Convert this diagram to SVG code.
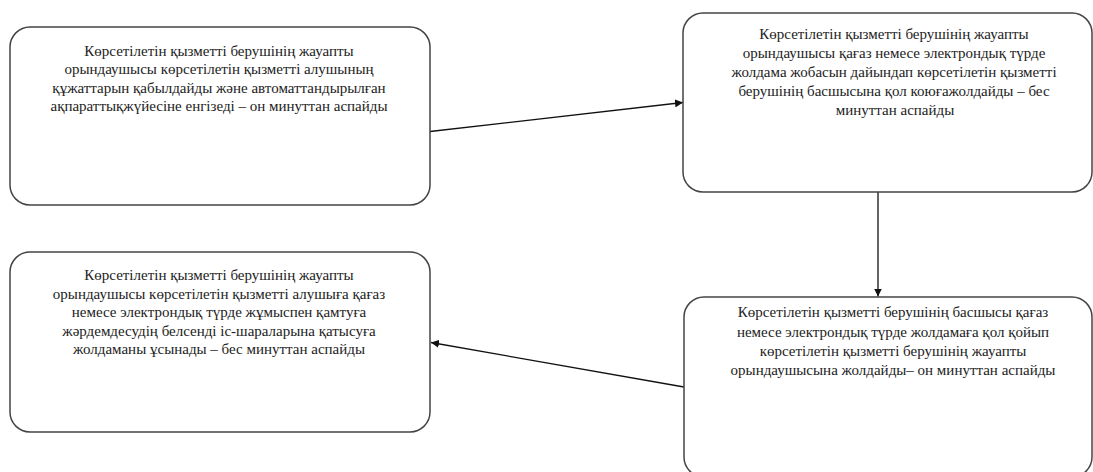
<svg xmlns="http://www.w3.org/2000/svg" width="1093" height="472" viewBox="0 0 1093 472">
<style>
.box{fill:#fff;stroke:#444;stroke-width:1.5}
.t{font-family:'Liberation Serif','Times New Roman',serif;font-size:15px;fill:#222;text-anchor:middle}
.c{stroke:#111;stroke-width:1.3;fill:none;marker-end:url(#ah)}
</style>
<defs>
<marker id="ah" viewBox="0 0 10 10" refX="10" refY="5" markerWidth="8" markerHeight="8" markerUnits="userSpaceOnUse" orient="auto">
<path d="M0,0 L10,5 L0,10 Z" fill="#111"/>
</marker>
</defs>
<rect width="1093" height="472" fill="#fff"/>
<g id="connectors">
<line class="c" x1="430" y1="131.5" x2="683" y2="102.5"/>
<line class="c" x1="878" y1="192" x2="878" y2="296.5"/>
<line class="c" x1="684" y1="387" x2="431" y2="342.5"/>
</g>
<g id="n1">
<rect class="box" x="10" y="27" width="420" height="178" rx="20"/>
<text class="t" x="219" y="55.5">Көрсетілетін қызметті берушінің жауапты</text>
<text class="t" x="219" y="74">орындаушысы көрсетілетін қызметті алушының</text>
<text class="t" x="219" y="92.5">құжаттарын қабылдайды және автоматтандырылған</text>
<text class="t" x="219" y="111">ақпараттықжүйесіне енгізеді – он минуттан аспайды</text>
</g>
<g id="n2">
<rect class="box" x="683" y="13" width="409" height="179" rx="20"/>
<text class="t" x="894" y="39">Көрсетілетін қызметті берушінің  жауапты</text>
<text class="t" x="894" y="58">орындаушысы қағаз немесе электрондық түрде</text>
<text class="t" x="894" y="77">жолдама жобасын дайындап көрсетілетін қызметті</text>
<text class="t" x="894" y="96">берушінің басшысына қол коюғажолдайды – бес</text>
<text class="t" x="895" y="115">минуттан аспайды</text>
</g>
<g id="n3">
<rect class="box" x="10" y="252" width="420" height="180" rx="20"/>
<text class="t" x="219" y="280">Көрсетілетін қызметті берушінің жауапты</text>
<text class="t" x="219" y="298.5">орындаушысы көрсетілетін қызметті алушыға қағаз</text>
<text class="t" x="219" y="317">немесе электрондық түрде жұмыспен қамтуға</text>
<text class="t" x="219" y="335.5">жәрдемдесудің белсенді іс-шараларына қатысуға</text>
<text class="t" x="219" y="354">жолдаманы ұсынады – бес минуттан аспайды</text>
</g>
<g id="n4">
<rect class="box" x="684" y="297" width="408" height="180" rx="20"/>
<text class="t" x="893" y="317">Көрсетілетін қызметті берушінің басшысы  қағаз</text>
<text class="t" x="893" y="336.5">немесе электрондық түрде жолдамаға қол қойып</text>
<text class="t" x="893" y="355.5">көрсетілетін қызметті берушінің жауапты</text>
<text class="t" x="893" y="374.5">орындаушысына жолдайды– он минуттан аспайды</text>
</g>
</svg>
